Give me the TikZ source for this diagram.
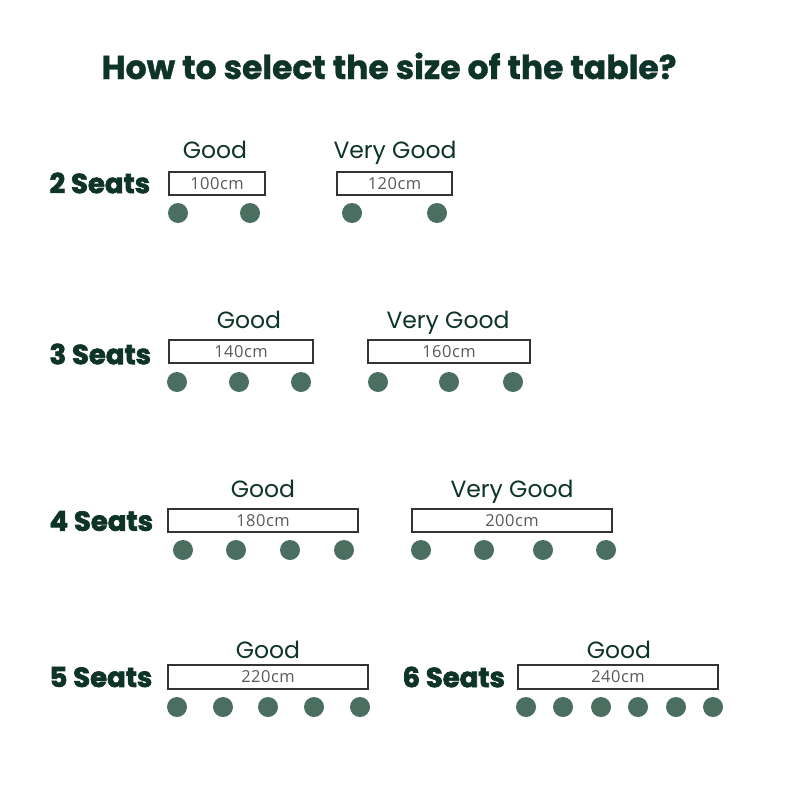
\documentclass[tikz,border=0pt]{standalone}
\usepackage{fontspec}
\setmainfont{Poppins}
\newfontfamily\cmfont{Open Sans}
\usepackage{xcolor}
\definecolor{deepgreen}{HTML}{0E3329}
\definecolor{seatgreen}{HTML}{4A6E5F}
\definecolor{labelgray}{HTML}{5A5A5A}
\definecolor{edgegray}{HTML}{333333}

\tikzset{
  tablebox/.style={draw=edgegray,line width=1.5pt,minimum height=23pt,inner sep=0pt,
    font=\cmfont\fontsize{16.5}{16.5}\selectfont\addfontfeature{LetterSpace=3},text=labelgray},
  seat/.style={circle,fill=seatgreen,minimum size=20pt,inner sep=0pt},
  rate/.style={anchor=base,font=\fontsize{23.5}{23.5}\selectfont,text=deepgreen},
  seats/.style={anchor=west,font=\bfseries\fontsize{27.5}{27.5}\selectfont\addfontfeature{FakeBold=2.5},text=deepgreen}
}

\begin{document}
\begin{tikzpicture}[x=1pt,y=-1pt]
  \useasboundingbox[fill=white] (0,0) rectangle (800,800);
  \node[anchor=base,font=\bfseries\fontsize{33}{33}\selectfont\addfontfeature{FakeBold=1},text=deepgreen] (title) at (389,79) {How to select the size of the table?};
  % 2 seats
  \node[seats] (s2) at (46,183) {2 Seats};
  \node[rate] (g2a) at (215,158) {Good};
  \node[rate] (g2b) at (395,158) {Very Good};
  \node[tablebox,minimum width=96pt] (t2a) at (217,183.5) {100cm};
  \node[tablebox,minimum width=115pt] (t2b) at (394.5,183.5) {120cm};
  \node[seat] (c2a1) at (178,213) {};
  \node[seat] (c2a2) at (250,213) {};
  \node[seat] (c2b1) at (352,213) {};
  \node[seat] (c2b2) at (437,213) {};
  % 3 seats
  \node[seats] (s3) at (46,354) {3 Seats};
  \node[rate] (g3a) at (249,328) {Good};
  \node[rate] (g3b) at (448,328) {Very Good};
  \node[tablebox,minimum width=144pt] (t3a) at (241,351.5) {140cm};
  \node[tablebox,minimum width=162pt] (t3b) at (449,351.5) {160cm};
  \node[seat] (c3a1) at (177,382) {};
  \node[seat] (c3a2) at (239,382) {};
  \node[seat] (c3a3) at (301,382) {};
  \node[seat] (c3b1) at (378,382) {};
  \node[seat] (c3b2) at (449,382) {};
  \node[seat] (c3b3) at (513,382) {};
  % 4 seats
  \node[seats] (s4) at (46,521) {4 Seats};
  \node[rate] (g4a) at (263,497) {Good};
  \node[rate] (g4b) at (512,497) {Very Good};
  \node[tablebox,minimum width=190pt] (t4a) at (263,520.5) {180cm};
  \node[tablebox,minimum width=200pt] (t4b) at (512,520.5) {200cm};
  \node[seat] (c4a1) at (183,550) {};
  \node[seat] (c4a2) at (236,550) {};
  \node[seat] (c4a3) at (290,550) {};
  \node[seat] (c4a4) at (344,550) {};
  \node[seat] (c4b1) at (421,550) {};
  \node[seat] (c4b2) at (484,550) {};
  \node[seat] (c4b3) at (543,550) {};
  \node[seat] (c4b4) at (606,550) {};
  % 5 and 6 seats
  \node[seats] (s5) at (46,677) {5 Seats};
  \node[seats] (s6) at (399,677) {6 Seats};
  \node[rate] (g5) at (268,658) {Good};
  \node[rate] (g6) at (619,658) {Good};
  \node[tablebox,minimum width=200pt,minimum height=24pt] (t5) at (268,677) {220cm};
  \node[tablebox,minimum width=200pt,minimum height=24pt] (t6) at (618,677) {240cm};
  \node[seat] (c51) at (177,707) {};
  \node[seat] (c52) at (223,707) {};
  \node[seat] (c53) at (268,707) {};
  \node[seat] (c54) at (314,707) {};
  \node[seat] (c55) at (360,707) {};
  \node[seat] (c61) at (526,707) {};
  \node[seat] (c62) at (563,707) {};
  \node[seat] (c63) at (601,707) {};
  \node[seat] (c64) at (638,707) {};
  \node[seat] (c65) at (676,707) {};
  \node[seat] (c66) at (713,707) {};
\end{tikzpicture}
\end{document}
